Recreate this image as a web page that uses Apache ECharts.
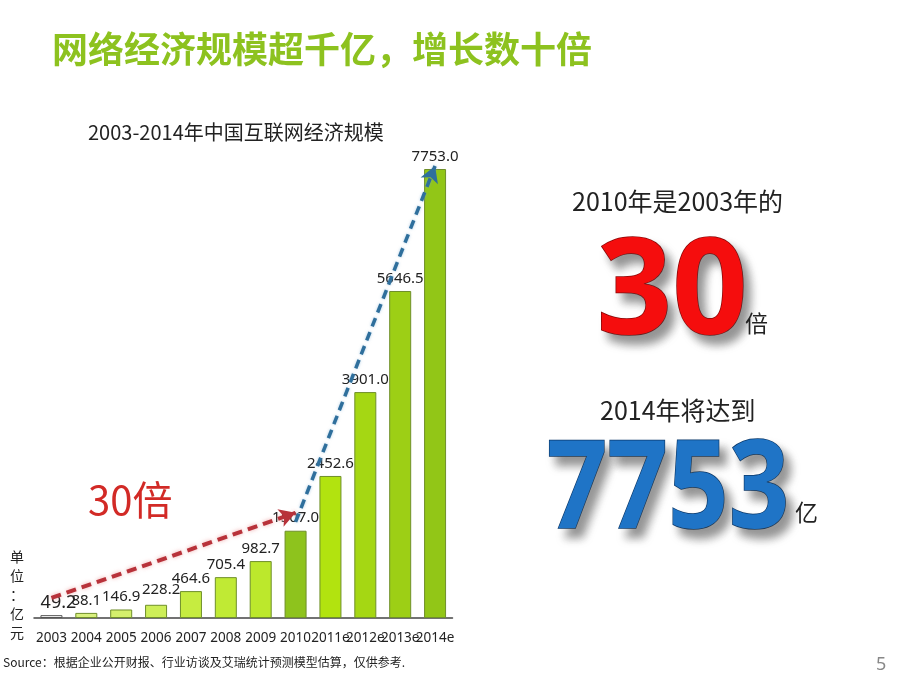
<!DOCTYPE html>
<html><head><meta charset="utf-8">
<script src="https://cdn.jsdelivr.net/npm/echarts@6/dist/echarts.min.js"></script>
<style>html,body{margin:0;padding:0;background:#fff}#c{width:920px;height:690px}</style>
</head><body><div id="c"></div>
<script>
var categories = ['2003','2004','2005','2006','2007','2008','2009','2010','2011e','2012e','2013e','2014e'];
var values = [49.2, 88.1, 146.9, 228.2, 464.6, 705.4, 982.7, 1507.0, 2452.6, 3901.0, 5646.5, 7753.0];
var barColors = ['#ffffff','#d9f07e','#d4ef6c','#cdee58','#c6ec40','#c0ea34','#bce82c','#8ec31d','#b2e30f','#a5d713','#9dcf15','#92c617'];
var redArrow = [['2003', 346], ['2010', 1817]];
var blueArrow = [['2010', 1658], ['2014e', 7805]];

var chart = echarts.init(document.getElementById('c'));
var CJK = '"Noto Sans CJK SC", "Noto Sans", sans-serif';
var data = values.map(function (v, i) {
  var d = { value: v, itemStyle: { color: barColors[i], borderColor: i === 0 ? '#555' : '#6f8f2a', borderWidth: 1 } };
  if (i === 0) d.label = { fontSize: 18, offset: [7, 2] };
  if (i === 3) d.label = { offset: [5, -3] };
  return d;
});
chart.setOption({
  animation: false,
  grid: { left: 34, right: 467.5, top: 154.7, bottom: 72 },
  xAxis: {
    type: 'category', data: categories,
    axisLine: { lineStyle: { color: '#444', width: 1.5 } },
    axisTick: { show: false },
    axisLabel: { interval: 0, color: '#222', fontSize: 13.5, margin: 13, fontFamily: '"Noto Sans", sans-serif' }
  },
  yAxis: { type: 'value', min: 0, max: 8000, show: false, splitLine: { show: false } },
  series: [{
    type: 'bar', data: data, barWidth: 22,
    label: { show: true, position: 'top', distance: 5, color: '#222', fontSize: 15, fontFamily: '"Noto Sans", sans-serif', formatter: function (p) { return p.value.toFixed(1); } },
    markLine: {
      silent: true, symbol: ['none', 'arrow'], symbolSize: [14, 16],
      label: { show: false },
      data: [
        [{ coord: redArrow[0], lineStyle: { color: '#b8323a', type: [10, 6], width: 4, shadowColor: 'rgba(230,120,120,0.6)', shadowBlur: 4 } }, { coord: redArrow[1] }],
        [{ coord: blueArrow[0], lineStyle: { color: '#2f6f9c', type: [9, 6], width: 3.5, shadowColor: 'rgba(120,170,210,0.6)', shadowBlur: 3 } }, { coord: blueArrow[1] }]
      ]
    }
  }],
  graphic: [
    { type: 'text', left: 52, top: 31, style: { text: '网络经济规模超千亿，增长数十倍', fill: '#8dc21f', font: 'bold 36px ' + CJK } },
    { type: 'text', left: 88, top: 122, style: { text: '2003-2014年中国互联网经济规模', fill: '#222', font: '20px ' + CJK } },
    { type: 'text', left: 10, top: 547, style: { text: '单\n位\n：\n亿\n元', fill: '#222', font: '14px ' + CJK, lineHeight: 19 } },
    { type: 'text', left: 88, top: 480, style: { text: '30倍', fill: '#d22a26', font: '40px ' + CJK } },
    { type: 'text', left: 572, top: 189, style: { text: '2010年是2003年的', fill: '#222', font: '25px ' + CJK } },
    { type: 'text', left: 596, top: 230, style: { text: '30', fill: '#f50d0d', stroke: '#8a0606', lineWidth: 1.5, font: 'bold 132px "Open Sans", sans-serif', textShadowColor: 'rgba(60,60,60,0.55)', textShadowBlur: 8, textShadowOffsetX: 7, textShadowOffsetY: 9 } },
    { type: 'text', left: 745, top: 312, style: { text: '倍', fill: '#222', font: '23px ' + CJK } },
    { type: 'text', left: 600, top: 398, style: { text: '2014年将达到', fill: '#222', font: '25px ' + CJK } },
    { type: 'text', left: 546, top: 431, scaleX: 0.87, style: { text: '7753', fill: '#1f74c6', stroke: '#0c3a6c', lineWidth: 1.5, font: 'bold 122px "Open Sans", sans-serif', textShadowColor: 'rgba(60,60,60,0.55)', textShadowBlur: 8, textShadowOffsetX: 7, textShadowOffsetY: 9 } },
    { type: 'text', left: 795, top: 501, style: { text: '亿', fill: '#222', font: '23px ' + CJK } },
    { type: 'text', left: 3, top: 656, style: { text: 'Source：根据企业公开财报、行业访谈及艾瑞统计预测模型估算，仅供参考.', fill: '#222', font: '12px ' + CJK } },
    { type: 'text', left: 876, top: 656, style: { text: '5', fill: '#888', font: '18px "Noto Sans", sans-serif' } }
  ]
});
</script></body></html>
